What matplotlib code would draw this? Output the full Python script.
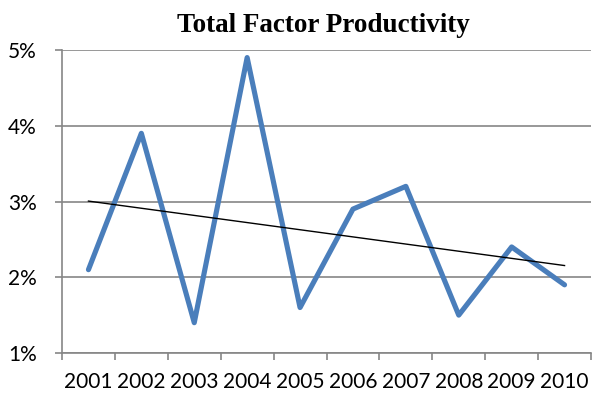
import matplotlib.pyplot as plt
import numpy as np
from matplotlib.ticker import FuncFormatter

# Annual TFP growth, percent
years = ["2001", "2002", "2003", "2004", "2005", "2006", "2007", "2008", "2009", "2010"]
tfp_growth = [2.1, 3.9, 1.4, 4.9, 1.6, 2.9, 3.2, 1.5, 2.4, 1.9]
title = "Total Factor Productivity"

fig = plt.figure(figsize=(5.92, 3.93), dpi=100)
ax = fig.add_axes([62 / 592, 40 / 393, 529 / 592, 303 / 393])

x = np.arange(len(years))
y = np.array(tfp_growth)

# Series line
ax.plot(x, y, color="#4A7EBB", linewidth=3.7, solid_capstyle="round", solid_joinstyle="round", zorder=3)

# Linear trend
slope, intercept = np.polyfit(x, y, 1)
ax.plot(x, slope * x + intercept, color="black", linewidth=1.0, zorder=4)

ax.set_xlim(-0.5, len(years) - 0.5)
ax.set_ylim(1, 5)
ax.set_yticks([1, 2, 3, 4, 5])
ax.yaxis.set_major_formatter(FuncFormatter(lambda v, p: f"{v:.0f}%"))

# Category axis ticks sit between the categories
ax.set_xticks(np.arange(-0.5, len(years), 1.0))
ax.set_xticklabels([])
ax.set_xticks(x, minor=True)
ax.set_xticklabels(years, minor=True)
ax.tick_params(axis="x", which="minor", length=0, pad=14, labelsize=15)
ax.tick_params(axis="x", which="major", length=5, width=1.2, color="#868686", direction="out")
ax.tick_params(axis="y", length=5, width=1.2, color="#868686", direction="out", pad=13, labelsize=15)
for lbl in ax.get_xticklabels(minor=True) + ax.get_yticklabels():
    lbl.set_fontfamily("Lato")

ax.grid(axis="y", color="#868686", linewidth=1.2)
ax.set_axisbelow(True)
for side in ["top", "right"]:
    ax.spines[side].set_visible(False)
for side in ["left", "bottom"]:
    ax.spines[side].set_color("#868686")
    ax.spines[side].set_linewidth(1.2)

fig.text(323 / 592, 1 - 32 / 393, title, ha="center", va="baseline",
         fontsize=19.5, fontweight="bold", fontfamily="Liberation Serif")

fig.savefig("out.png", dpi=100)
